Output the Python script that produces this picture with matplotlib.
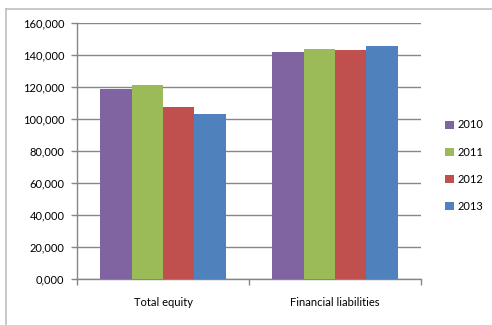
import matplotlib
matplotlib.use("Agg")
import matplotlib.pyplot as plt
from matplotlib.lines import Line2D
from matplotlib.patches import Patch
import numpy as np

plt.rcParams['font.family'] = ['Lato', 'DejaVu Sans']

categories = ["Total equity", "Financial liabilities"]
years = ["2010", "2011", "2012", "2013"]
values = {
    "2010": [118600, 141800],
    "2011": [121300, 143900],
    "2012": [107300, 143000],
    "2013": [103100, 145800],
}
colors = ["#8064A2", "#9BBB59", "#C0504D", "#4F81BD"]
y_ticks = [0, 20000, 40000, 60000, 80000, 100000, 120000, 140000, 160000]
y_tick_labels = ["0,000", "20,000", "40,000", "60,000", "80,000",
                 "100,000", "120,000", "140,000", "160,000"]

W, H = 492, 325
fig = plt.figure(figsize=(W / 100, H / 100), dpi=100)
ax = fig.add_axes([77 / W, 46.3 / H, 344 / W, 255.7 / H])

grid_c = "#868686"
bar_w = 0.182
x = np.arange(len(categories))
for i, (yr, col) in enumerate(zip(years, colors)):
    ax.bar(x + (i - 1.5) * bar_w, values[yr], width=bar_w, color=col,
           edgecolor="none", zorder=3, label=yr)

ax.set_xlim(-0.5, 1.5)
ax.set_ylim(0, 160000)
ax.set_yticks(y_ticks)
ax.set_yticklabels(y_tick_labels)
ax.yaxis.grid(True, color=grid_c, linewidth=1.0, zorder=0)
ax.set_axisbelow(True)

# category labels sit between boundary tick marks
ax.set_xticks([-0.5, 0.5, 1.5])
ax.set_xticklabels([])
ax.set_xticks(x, minor=True)
ax.set_xticklabels(categories, minor=True)
ax.tick_params(axis="x", which="major", length=4, color=grid_c, width=1)
ax.tick_params(axis="x", which="minor", length=0, pad=13, labelsize=8)
ax.tick_params(axis="y", length=4, color=grid_c, width=1, pad=5, labelsize=8)

for s in ["top", "right"]:
    ax.spines[s].set_visible(False)
for s in ["left", "bottom"]:
    ax.spines[s].set_color(grid_c)
    ax.spines[s].set_linewidth(1.0)

handles = [Patch(facecolor=c, edgecolor="none") for c in colors]
fig.legend(handles, years, loc="upper left",
           bbox_to_anchor=(441 / W, 1 - 115 / H), frameon=False,
           fontsize=8, handlelength=0.75, handleheight=0.75,
           handletextpad=0.3, labelspacing=1.45, borderaxespad=0)

# outer chart frame
fc = "#BFBFBF"
fig.add_artist(Line2D([5.5 / W, 1], [1 - 8.5 / H, 1 - 8.5 / H],
                      transform=fig.transFigure, color=fc, linewidth=1.2))
fig.add_artist(Line2D([5.5 / W, 5.5 / W], [0, 1 - 8.5 / H],
                      transform=fig.transFigure, color=fc, linewidth=1.2))

fig.savefig("out.png", dpi=100)
